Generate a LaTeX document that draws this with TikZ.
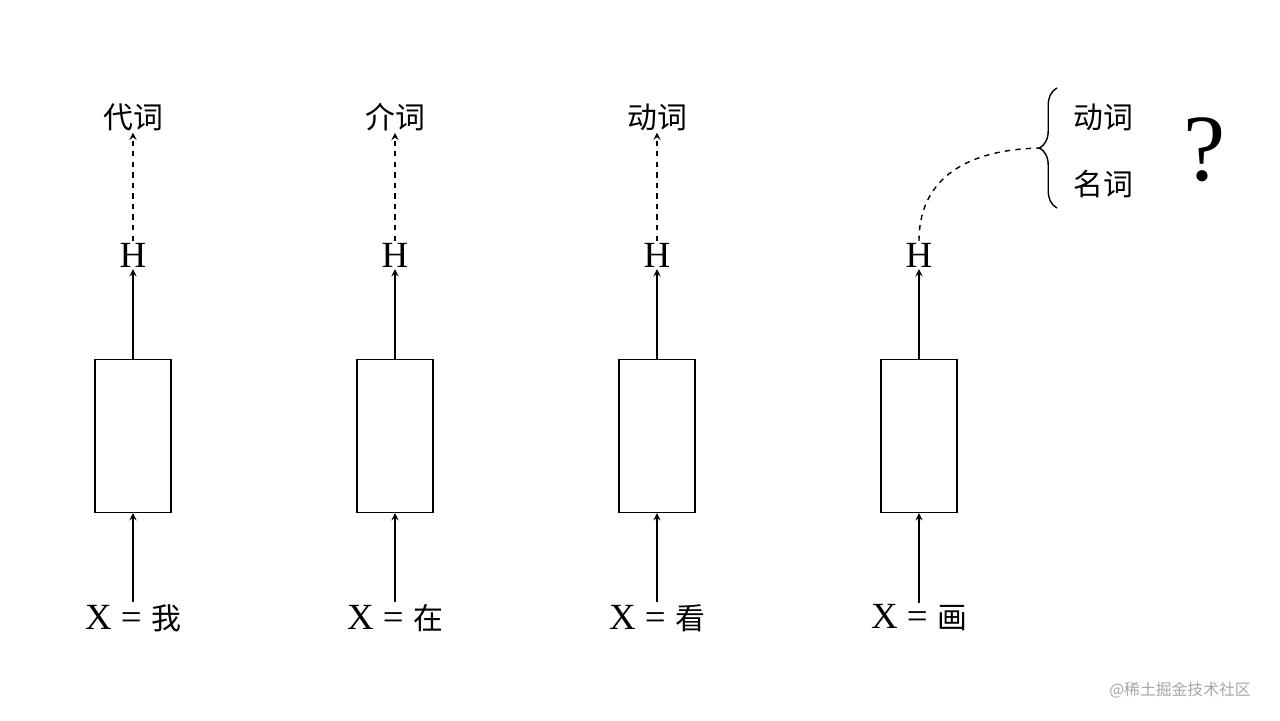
\documentclass[tikz,border=0pt]{standalone}
\usepackage{fontspec}
\setmainfont{Liberation Serif}
\newfontfamily\cjk{Noto Sans CJK SC}
\usetikzlibrary{decorations.pathreplacing,arrows,positioning}
\tikzset{>=stealth}

\begin{document}
\begin{tikzpicture}[x=0.02cm,y=-0.02cm,
                    cell/.style={draw, thick, minimum width=1.52cm, minimum height=3.06cm, inner sep=0pt},
                    lbl/.style={font=\fontsize{21}{24}\selectfont, inner sep=1pt},
                    word/.style={font=\fontsize{17}{20}\selectfont\cjk, inner sep=1pt},
                    feed/.style={thick,->},
                    guess/.style={thick,dashed,->},
                   ]

\useasboundingbox (0,0) rectangle (1280,720);

% four time steps
\foreach \i/\x/\w in {1/133/我, 2/395/在, 3/657/看, 4/919/画}{
  \node[cell] (box\i) at (\x,436) {};
  \node[lbl] (h\i) at (\x,255) {H};
  \node[lbl] (x\i) at (\x,618) {X = {\cjk\fontsize{17}{20}\selectfont \w}};
  \draw[feed] (x\i) -- (box\i);
  \draw[feed] (box\i) -- (h\i);
}
\foreach \i/\x/\t in {1/133/代词, 2/395/介词, 3/657/动词}{
  \node[word] (w\i) at (\x,117) {\t};
  \draw[guess] (h\i) -- (w\i);
}

% ambiguous last step
\coordinate (tip) at (1045,148);
\draw[thick, decorate, decoration={brace, amplitude=10pt}] (1057,208) -- (1057,88);
\draw[thick, dashed] (h4.north) .. controls (919,170) and (980,148) .. (tip);
\node[word] (verb) at (1103,117) {动词};
\node[word] (noun) at (1103,184) {名词};
\node[font=\fontsize{54}{60}\selectfont] (ask) at (1205,150) {?};

\node[font=\fontsize{9}{11}\selectfont\cjk, text=gray!70] (mark) at (1180,690) {@稀土掘金技术社区};

\end{tikzpicture}
\end{document}
